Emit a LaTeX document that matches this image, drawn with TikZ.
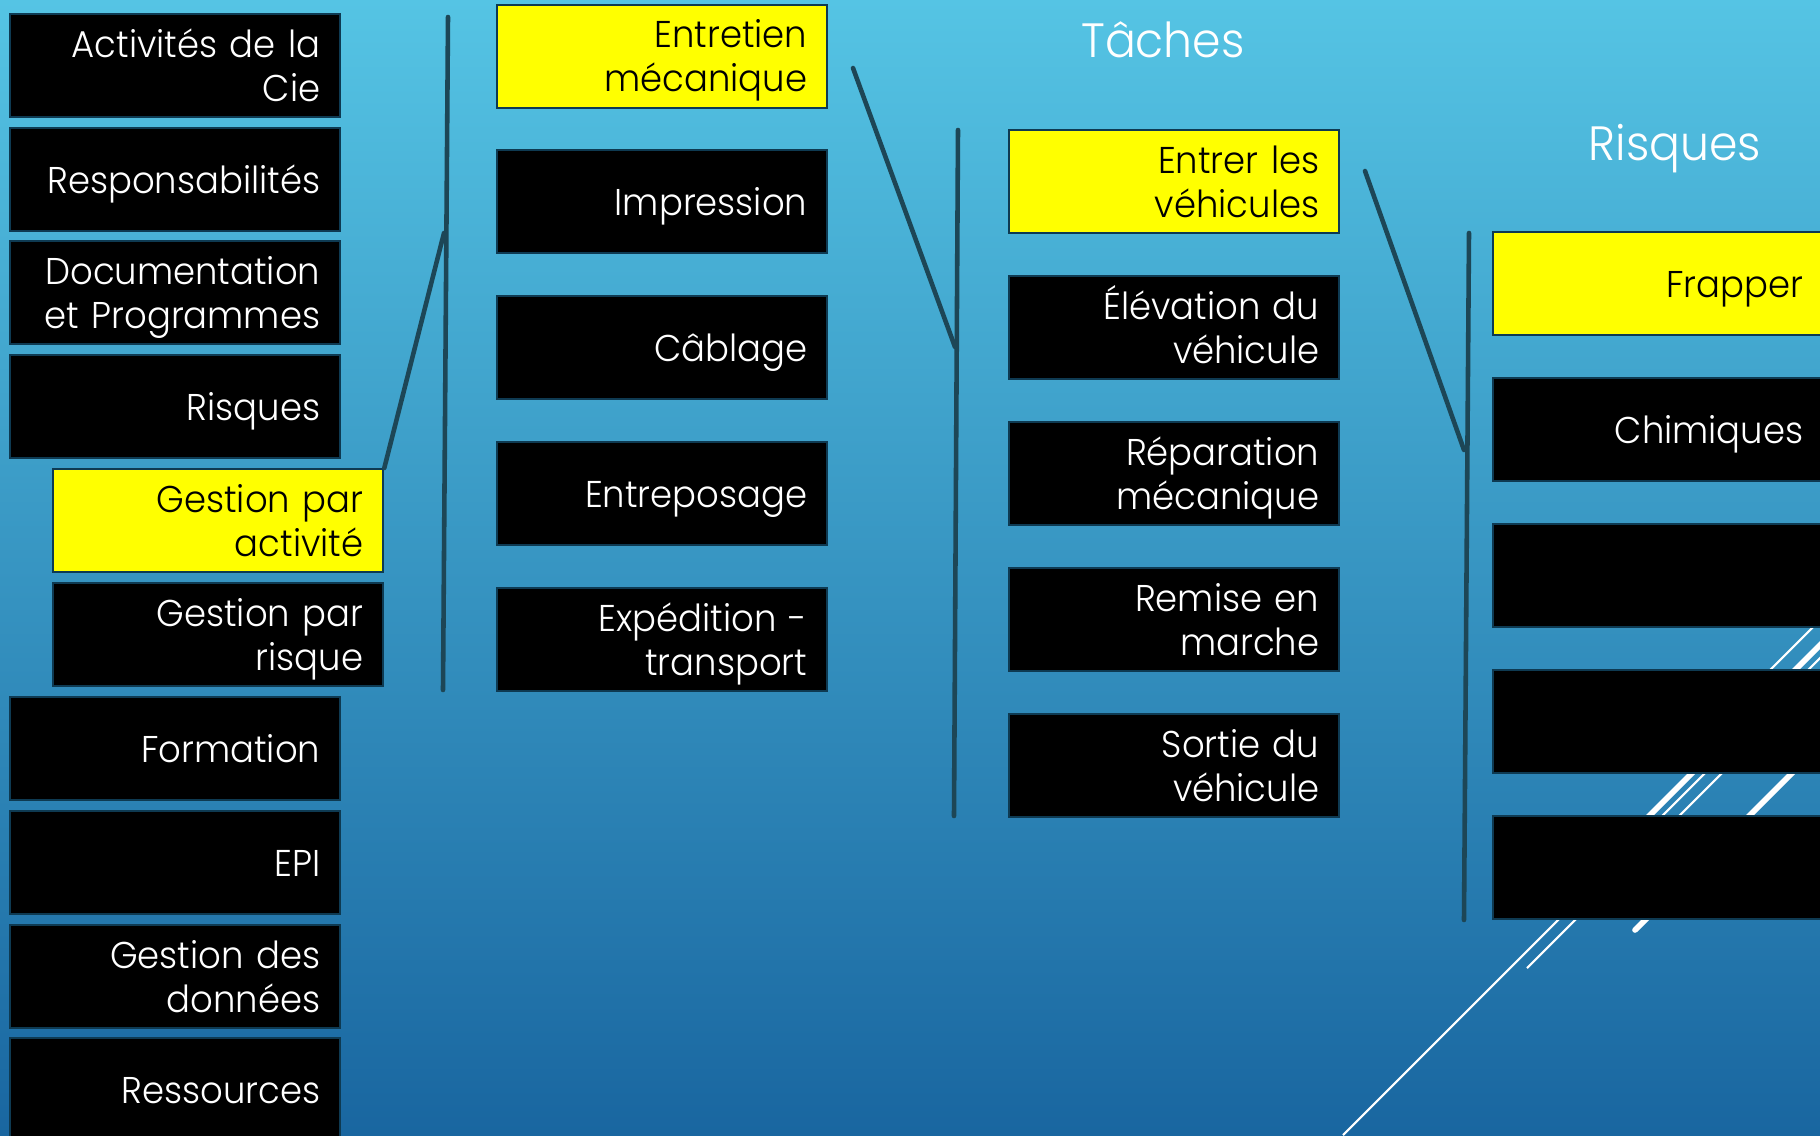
\documentclass[tikz,border=0pt]{standalone}
\usepackage{fontspec}
\setmainfont{Poppins Light}[FakeStretch=0.95]
\definecolor{bgtop}{HTML}{55C4E4}
\definecolor{bgmid}{HTML}{3698C6}
\definecolor{bgbot}{HTML}{1966A0}
\definecolor{boxedge}{HTML}{0E3A52}
\definecolor{connector}{HTML}{1D4656}
\definecolor{hilite}{HTML}{FFFF00}
\newcommand\cellstart{\hyphenpenalty=10000\relax\exhyphenpenalty=10000\relax\rule{0pt}{11.6pt}}
\tikzset{
  cell/.style={draw=boxedge, line width=0.6pt, fill=black, text=white,
    font=\fontsize{10.6}{12.5}\selectfont,
    minimum width=3.3cm, minimum height=1.03cm,
    text width=2.9cm, align=right, inner xsep=0.2cm, inner ysep=0pt, anchor=north west,
    execute at begin node=\cellstart, execute at end node=\strut},
  hicell/.style={cell, fill=hilite, text=black},
  heading/.style={text=white, font=\fontsize{13.7}{16}\selectfont, anchor=base, inner sep=0pt},
  bracket/.style={draw=connector, line width=1.3pt, line cap=round},
  thinstreak/.style={draw=white, line width=0.6pt},
  thickstreak/.style={draw=white, line width=1.6pt, line cap=round}
}
\begin{document}
\begin{tikzpicture}[x=0.01cm,y=-0.01cm]
\useasboundingbox (0,0) rectangle (1820,1135);
\shade[top color=bgtop, middle color=bgmid, bottom color=bgbot] (0,0) rectangle (1820,1135);

% decorative streaks (behind boxes)
\begin{scope}
\clip (0,0) rectangle (1820,1135);
\draw[thinstreak] (1343,1135) -- (1873,605);
\draw[thinstreak] (1527,968) -- (1877,618);
\draw[thickstreak] (1600,865) -- (1880,585);
\draw[thickstreak] (1635,930) -- (1935,630);
\draw[thinstreak] (1700,740) -- (1880,560);
\end{scope}

% titles
\node[heading] (t1) at (1163,57) {Tâches};
\node[heading] (t2) at (1675,160) {Risques};

% left column
\node[cell] (a1) at (9,13) {Activités de la\\Cie};
\node[cell] (a2) at (9,127) {Responsabilités};
\node[cell] (a3) at (9,240) {Documentation\\et Programmes};
\node[cell] (a4) at (9,354) {Risques};
\node[hicell] (a5) at (52,468) {Gestion par\\activité};
\node[cell] (a6) at (52,582) {Gestion par\\risque};
\node[cell] (a7) at (9,696) {Formation};
\node[cell] (a8) at (9,810) {EPI};
\node[cell] (a9) at (9,924) {Gestion des\\données};
\node[cell] (a10) at (9,1037) {Ressources};

% activities column
\node[hicell] (b1) at (496,3.5) {Entretien\\mécanique};
\node[cell] (b2) at (496,149) {Impression};
\node[cell] (b3) at (496,295) {Câblage};
\node[cell] (b4) at (496,441) {Entreposage};
\node[cell] (b5) at (496,587) {Expédition -\\transport};

% tasks column
\node[hicell] (c1) at (1008,129) {Entrer les\\véhicules};
\node[cell] (c2) at (1008,275) {Élévation du\\véhicule};
\node[cell] (c3) at (1008,421) {Réparation\\mécanique};
\node[cell] (c4) at (1008,567) {Remise en\\marche};
\node[cell] (c5) at (1008,713) {Sortie du\\véhicule};

% risks column
\node[hicell] (d1) at (1492,231) {Frapper};
\node[cell] (d2) at (1492,377) {Chimiques};
\node[cell] (d3) at (1492,523) {};
\node[cell] (d4) at (1492,669) {};
\node[cell] (d5) at (1492,815) {};

% brackets
\coordinate (v1top) at (448,17);
\coordinate (v1bot) at (443,690);
\coordinate (v1mid) at (444,233);
\draw[bracket] (v1top) -- (v1bot);
\draw[bracket] (v1mid) -- (a5.north east);

\coordinate (v2top) at (958,130);
\coordinate (v2bot) at (954,816);
\coordinate (v2mid) at (955,347);
\coordinate (s2) at (853,68);
\draw[bracket] (v2top) -- (v2bot);
\draw[bracket] (s2) -- (v2mid);

\coordinate (v3top) at (1469,233);
\coordinate (v3bot) at (1464,920);
\coordinate (v3mid) at (1464,450);
\coordinate (s3) at (1365,171);
\draw[bracket] (v3top) -- (v3bot);
\draw[bracket] (s3) -- (v3mid);
\end{tikzpicture}
\end{document}
